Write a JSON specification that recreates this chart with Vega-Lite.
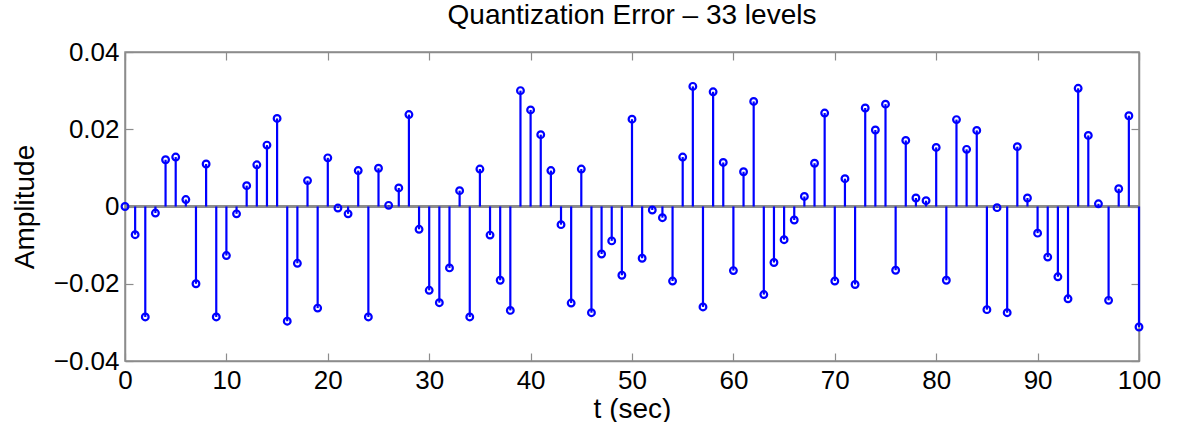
{
  "$schema": "https://vega.github.io/schema/vega-lite/v6.json",
  "width": 1014,
  "height": 309,
  "autosize": {"type": "none"},
  "padding": {"left": 125, "top": 52, "right": 42, "bottom": 61},
  "background": "white",
  "title": {
    "text": "Quantization Error – 33 levels",
    "font": "Liberation Sans",
    "fontSize": 28,
    "fontWeight": "normal",
    "color": "#000000",
    "offset": 9
  },
  "config": {
    "view": {"stroke": "#8c8c8c", "strokeWidth": 1.5},
    "axis": {
      "labelFont": "Liberation Sans",
      "titleFont": "Liberation Sans",
      "labelFontSize": 26,
      "titleFontSize": 28,
      "titleFontWeight": "normal",
      "labelColor": "#000000",
      "titleColor": "#000000",
      "domainColor": "#8c8c8c",
      "tickColor": "#8c8c8c",
      "domainWidth": 1.5,
      "tickWidth": 1.2,
      "grid": false
    }
  },
  "data": {
    "values": [
      {"t": 0, "v": 0.0},
      {"t": 1, "v": -0.0073},
      {"t": 2, "v": -0.0286},
      {"t": 3, "v": -0.0017},
      {"t": 4, "v": 0.0121},
      {"t": 5, "v": 0.0128},
      {"t": 6, "v": 0.0018},
      {"t": 7, "v": -0.0200},
      {"t": 8, "v": 0.0110},
      {"t": 9, "v": -0.0286},
      {"t": 10, "v": -0.0127},
      {"t": 11, "v": -0.0019},
      {"t": 12, "v": 0.0054},
      {"t": 13, "v": 0.0108},
      {"t": 14, "v": 0.0159},
      {"t": 15, "v": 0.0228},
      {"t": 16, "v": -0.0297},
      {"t": 17, "v": -0.0147},
      {"t": 18, "v": 0.0067},
      {"t": 19, "v": -0.0263},
      {"t": 20, "v": 0.0126},
      {"t": 21, "v": -0.0004},
      {"t": 22, "v": -0.0019},
      {"t": 23, "v": 0.0093},
      {"t": 24, "v": -0.0286},
      {"t": 25, "v": 0.0099},
      {"t": 26, "v": 0.0003},
      {"t": 27, "v": 0.0048},
      {"t": 28, "v": 0.0238},
      {"t": 29, "v": -0.0059},
      {"t": 30, "v": -0.0217},
      {"t": 31, "v": -0.0249},
      {"t": 32, "v": -0.0159},
      {"t": 33, "v": 0.0041},
      {"t": 34, "v": -0.0286},
      {"t": 35, "v": 0.0097},
      {"t": 36, "v": -0.0074},
      {"t": 37, "v": -0.0191},
      {"t": 38, "v": -0.0269},
      {"t": 39, "v": 0.0300},
      {"t": 40, "v": 0.0250},
      {"t": 41, "v": 0.0186},
      {"t": 42, "v": 0.0093},
      {"t": 43, "v": -0.0047},
      {"t": 44, "v": -0.0250},
      {"t": 45, "v": 0.0097},
      {"t": 46, "v": -0.0275},
      {"t": 47, "v": -0.0123},
      {"t": 48, "v": -0.0089},
      {"t": 49, "v": -0.0178},
      {"t": 50, "v": 0.0226},
      {"t": 51, "v": -0.0134},
      {"t": 52, "v": -0.0009},
      {"t": 53, "v": -0.0029},
      {"t": 54, "v": -0.0193},
      {"t": 55, "v": 0.0128},
      {"t": 56, "v": 0.0311},
      {"t": 57, "v": -0.0260},
      {"t": 58, "v": 0.0297},
      {"t": 59, "v": 0.0114},
      {"t": 60, "v": -0.0166},
      {"t": 61, "v": 0.0090},
      {"t": 62, "v": 0.0272},
      {"t": 63, "v": -0.0228},
      {"t": 64, "v": -0.0145},
      {"t": 65, "v": -0.0086},
      {"t": 66, "v": -0.0035},
      {"t": 67, "v": 0.0026},
      {"t": 68, "v": 0.0112},
      {"t": 69, "v": 0.0242},
      {"t": 70, "v": -0.0193},
      {"t": 71, "v": 0.0072},
      {"t": 72, "v": -0.0202},
      {"t": 73, "v": 0.0255},
      {"t": 74, "v": 0.0198},
      {"t": 75, "v": 0.0265},
      {"t": 76, "v": -0.0165},
      {"t": 77, "v": 0.0171},
      {"t": 78, "v": 0.0022},
      {"t": 79, "v": 0.0015},
      {"t": 80, "v": 0.0153},
      {"t": 81, "v": -0.0191},
      {"t": 82, "v": 0.0225},
      {"t": 83, "v": 0.0148},
      {"t": 84, "v": 0.0197},
      {"t": 85, "v": -0.0267},
      {"t": 86, "v": -0.0003},
      {"t": 87, "v": -0.0275},
      {"t": 88, "v": 0.0155},
      {"t": 89, "v": 0.0022},
      {"t": 90, "v": -0.0069},
      {"t": 91, "v": -0.0131},
      {"t": 92, "v": -0.0182},
      {"t": 93, "v": -0.0239},
      {"t": 94, "v": 0.0306},
      {"t": 95, "v": 0.0184},
      {"t": 96, "v": 0.0007},
      {"t": 97, "v": -0.0243},
      {"t": 98, "v": 0.0046},
      {"t": 99, "v": 0.0235},
      {"t": 100, "v": -0.0312}
    ]
  },
  "layer": [
    {
      "mark": {"type": "rule", "color": "#8c8c8c", "strokeWidth": 1.5},
      "encoding": {
        "y": {"datum": 0, "type": "quantitative", "scale": {"domain": [-0.04, 0.04], "nice": false, "zero": false}, "axis": null}
      }
    },
    {
      "mark": {"type": "rule", "color": "#0000ff", "strokeWidth": 2.2},
      "encoding": {
        "x": {
          "field": "t", "type": "quantitative",
          "scale": {"domain": [0, 100], "nice": false, "zero": false},
          "axis": {
            "orient": "bottom",
            "values": [0, 10, 20, 30, 40, 50, 60, 70, 80, 90, 100],
            "tickSize": -8,
            "labelPadding": 14,
            "labelFlush": false,
            "title": "t (sec)",
            "titlePadding": 2
          }
        },
        "y": {
          "field": "v", "type": "quantitative",
          "scale": {"domain": [-0.04, 0.04], "nice": false, "zero": false},
          "axis": {
            "orient": "left",
            "values": [-0.04, -0.02, 0, 0.02, 0.04],
            "labelExpr": "datum.value == 0 ? '0' : format(datum.value, '.2f')",
            "tickSize": -8,
            "labelPadding": 14,
            "labelFlush": false,
            "title": "Amplitude",
            "titlePadding": 14
          }
        },
        "y2": {"datum": 0}
      }
    },
    {
      "mark": {"type": "point", "shape": "circle", "filled": false, "color": "#0000ff", "strokeWidth": 2.2, "size": 45, "opacity": 1},
      "encoding": {
        "x": {
          "field": "t", "type": "quantitative",
          "scale": {"domain": [0, 100], "nice": false, "zero": false},
          "axis": {"orient": "top", "values": [0, 10, 20, 30, 40, 50, 60, 70, 80, 90, 100], "labels": false, "tickSize": -8, "title": null}
        },
        "y": {
          "field": "v", "type": "quantitative",
          "scale": {"domain": [-0.04, 0.04], "nice": false, "zero": false},
          "axis": {"orient": "right", "values": [-0.04, -0.02, 0, 0.02, 0.04], "labels": false, "tickSize": -8, "title": null}
        }
      }
    }
  ],
  "resolve": {"axis": {"x": "independent", "y": "independent"}}
}
